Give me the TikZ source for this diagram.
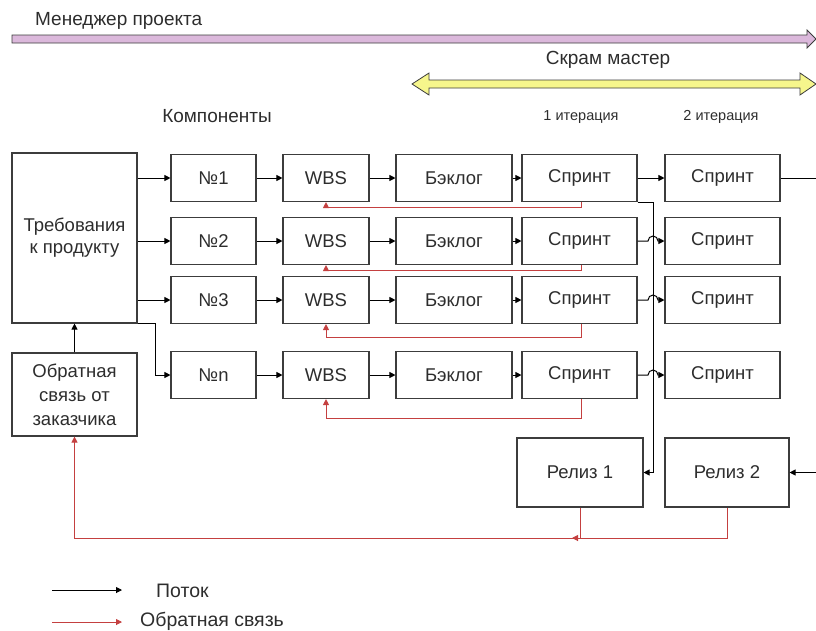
\documentclass[tikz,border=0pt]{standalone}
\usepackage{fontspec}
\setmainfont{Liberation Sans}
\usepackage{tikz}
\usetikzlibrary{arrows.meta,positioning}
\definecolor{boxline}{RGB}{60,60,60}
\definecolor{textgray}{RGB}{45,45,45}
\definecolor{fbred}{RGB}{196,64,64}
\definecolor{pmlilac}{RGB}{219,184,219}
\definecolor{smyellow}{RGB}{246,246,140}

\begin{document}
\begin{tikzpicture}[x=1pt, y=-1pt,
  box/.style={draw=boxline, line width=1.1pt, fill=white, inner sep=0pt, align=center,
    text=textgray, font=\fontsize{18.5}{22}\selectfont},
  lbl/.style={text=textgray, inner sep=0pt, font=\fontsize{19}{22}\selectfont},
  flow/.style={-{Triangle[length=6pt,width=6pt]}, line width=1pt, black},
  fbline/.style={line width=1pt, fbred},
  fb/.style={-{Triangle[length=6pt,width=6pt]}, line width=1pt, fbred}]

  \useasboundingbox (0,0) rectangle (816,630);

  % Role bars on top
  \draw[boxline, line width=0.8pt, fill=pmlilac] (12,35) -- (807,35) -- (807,30) -- (816,39) -- (807,48) -- (807,43) -- (12,43) -- cycle;
  \node (pm) at (35,21) [lbl, anchor=west] {Менеджер проекта};
  \draw[boxline, line width=0.8pt, fill=smyellow] (412,84) -- (429,73) -- (429,80) -- (800,80) -- (800,73) -- (816,84) -- (800,95) -- (800,88) -- (429,88) -- (429,95) -- cycle;
  \node (sm) at (608,60) [lbl] {Скрам мастер};

  % Column headers
  \node (comp) at (217,116) [lbl] {Компоненты};
  \node (it1) at (581,117) [lbl, font=\fontsize{14.5}{17}\selectfont] {1 итерация};
  \node (it2) at (721,117) [lbl, font=\fontsize{14.5}{17}\selectfont] {2 итерация};

  % Requirements and customer feedback
  \node (req) at (74.5,238) [box, minimum width=125pt, minimum height=170pt] {Требования\\к продукту};
  \node (obr) at (74.5,394.5) [box, minimum width=125pt, minimum height=83pt, font=\fontsize{18.5}{24}\selectfont] {Обратная\\связь от\\заказчика};
  \draw[flow] (obr.north) -- (req.south);

  % Component rows: component -> WBS -> backlog -> sprint -> sprint
  \foreach \r/\y/\nr/\d in {1/178/1/5, 2/241/2/5, 3/300/3/13, 4/375/n/19} {
    \node (n\r) at (213.5,\y) [box, minimum width=85pt, minimum height=47pt] {№\nr};
    \node (w\r) at (326,\y) [box, minimum width=86pt, minimum height=47pt] {WBS};
    \node (b\r) at (454,\y) [box, minimum width=116pt, minimum height=47pt] {Бэклог};
    \node (s\r) at (579.5,\y) [box, minimum width=115pt, minimum height=47pt] {Спринт};
    \node (t\r) at (722.5,\y) [box, minimum width=115pt, minimum height=47pt] {Спринт};
    \draw[flow] (n\r) -- (w\r);
    \draw[flow] (w\r) -- (b\r);
    \draw[flow] (b\r) -- (s\r);
    \draw[fb] (s\r.south) ++(1.5,0) -- ++(0,\d) -| (w\r.south);
  }
  \foreach \r in {1,2,3} {
    \draw[flow] (req.east |- n\r.west) -- (n\r.west);
  }
  \draw[flow] (req.south east) -- ++(18,0) |- (n4.west);

  % Iteration 1 -> iteration 2 (hops over the release line)
  \draw[flow] (s1) -- (t1);
  \foreach \r in {2,3,4} {
    \draw[flow] (s\r.east) -- (s\r.east -| 648,0) arc[start angle=180, end angle=0, radius=5pt] -- (t\r.west);
  }
  \coordinate (t1out) at (816,178);
  \draw[line width=1pt] (t1.east) -- (t1out);

  % Releases
  \node (rel1) at (580,472.5) [box, minimum width=126pt, minimum height=69pt] {Релиз 1};
  \node (rel2) at (727,472.5) [box, minimum width=124pt, minimum height=69pt] {Релиз 2};
  \draw[flow] (s1.south east) -- ++(16,0) |- (rel1.east);
  \coordinate (rel2in) at (816,472.5);
  \draw[flow] (rel2in) -- (rel2.east);

  % Feedback from releases back to the customer
  \coordinate (fbjoin) at (581,538);
  \draw[fbline] (rel2.south) |- (fbjoin);
  \draw[fbline] (rel1.south) -- (rel1.south |- fbjoin);
  \draw[fb] (fbjoin) -| (obr.south);
  \draw[fb] (fbjoin) -- ++(-9,0);

  % Legend
  \coordinate (lgfa) at (52,590);
  \coordinate (lgfb) at (122,590);
  \draw[flow] (lgfa) -- (lgfb);
  \node (lgflow) at (156,591) [lbl, anchor=west, font=\fontsize{19.5}{22}\selectfont] {Поток};
  \coordinate (lgra) at (52,622);
  \coordinate (lgrb) at (122,622);
  \draw[fb] (lgra) -- (lgrb);
  \node (lgfb) at (140,621) [lbl, anchor=west, font=\fontsize{19.5}{22}\selectfont] {Обратная связь};

\end{tikzpicture}
\end{document}
